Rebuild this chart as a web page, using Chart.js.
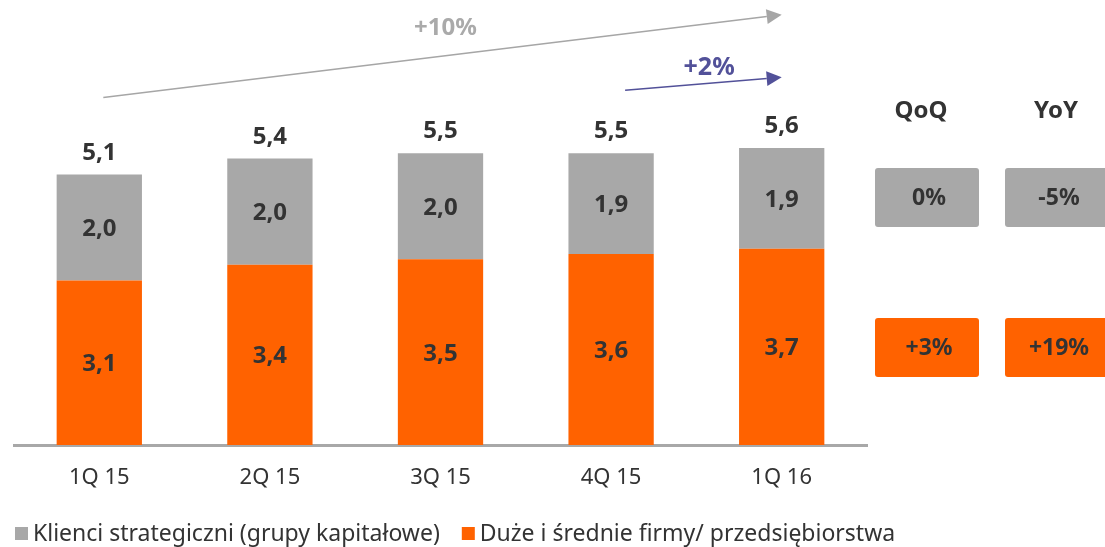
<!DOCTYPE html>
<html>
<head>
<meta charset="utf-8">
<script src="https://cdn.jsdelivr.net/npm/chart.js@4/dist/chart.umd.min.js"></script>
<style>
  html, body { margin: 0; padding: 0; background: #fff; }
  #wrap { width: 1105px; height: 547px; }
</style>
</head>
<body>
<div id="wrap"><canvas id="chart"></canvas></div>
<script>
const quarters = ['1Q 15', '2Q 15', '3Q 15', '4Q 15', '1Q 16'];
const strategic = [2.0, 2.0, 2.0, 1.9, 1.9];
const corporate = [3.1, 3.4, 3.5, 3.6, 3.7];
const totals = [5.1, 5.4, 5.5, 5.5, 5.6];
const seriesNames = ['Duże i średnie firmy/ przedsiębiorstwa', 'Klienci strategiczni (grupy kapitałowe)'];
const changeHeads = ['QoQ', 'YoY'];
const strategicChange = ['0%', '-5%'];
const corporateChange = ['+3%', '+19%'];
const trendLabels = ['+10%', '+2%'];

const ORANGE = '#ff6200';
const GREY = '#a8a8a8';
const TEXT = '#333333';
const BLUE = '#525199';
const FONT = '"Noto Sans", sans-serif';

Chart.defaults.font.family = FONT;
Chart.defaults.color = TEXT;

const fmt = v => v.toFixed(1).replace('.', ',');

// text centred on its cap height
const label = (ctx, txt, x, y, size, color, weight = 'bold') => {
  ctx.font = `${weight} ${size}px ${FONT}`;
  ctx.fillStyle = color;
  ctx.fillText(txt, x, y + size * 0.36);
};

const arrow = (ctx, x1, y1, x2, y2, color) => {
  const a = Math.atan2(y2 - y1, x2 - x1);
  const len = 15, half = 7.5;
  const bx = x2 - len * Math.cos(a), by = y2 - len * Math.sin(a);
  ctx.strokeStyle = color;
  ctx.fillStyle = color;
  ctx.lineWidth = 1.5;
  ctx.beginPath();
  ctx.moveTo(x1, y1);
  ctx.lineTo(bx, by);
  ctx.stroke();
  ctx.beginPath();
  ctx.moveTo(x2, y2);
  ctx.lineTo(bx + half * Math.sin(a), by - half * Math.cos(a));
  ctx.lineTo(bx - half * Math.sin(a), by + half * Math.cos(a));
  ctx.closePath();
  ctx.fill();
};

const annotate = {
  id: 'annotate',
  afterDatasetsDraw(chart) {
    const { ctx, scales: { x, y } } = chart;
    ctx.save();
    ctx.textAlign = 'center';
    ctx.textBaseline = 'alphabetic';

    // values inside bars
    chart.data.datasets.forEach((ds, i) => {
      chart.getDatasetMeta(i).data.forEach((bar, j) => {
        label(ctx, fmt(ds.data[j]), bar.x, (bar.y + bar.base) / 2, 24, TEXT);
      });
    });

    // totals
    totals.forEach((t, j) => {
      label(ctx, fmt(t), x.getPixelForValue(j), y.getPixelForValue(t) - 23.5, 24, TEXT);
    });

    // trend arrows
    arrow(ctx, x.getPixelForValue(0) + 4, y.getPixelForValue(6.55),
      x.getPixelForValue(4), y.getPixelForValue(8.11), '#a6a6a6');
    arrow(ctx, x.getPixelForValue(3) + 14, y.getPixelForValue(6.685),
      x.getPixelForValue(4), y.getPixelForValue(6.93), BLUE);
    label(ctx, trendLabels[0], x.getPixelForValue(2) + 5, y.getPixelForValue(7.89), 24, '#aaaaaa');
    label(ctx, trendLabels[1], x.getPixelForValue(3) + 98, y.getPixelForValue(7.14), 25, BLUE);

    // QoQ / YoY panel
    const cols = [{ x: 875, w: 104 }, { x: 1005, w: 106 }];
    changeHeads.forEach((h, k) => label(ctx, h, [921, 1056][k], 109, 24, TEXT));
    [[strategicChange, GREY, 168], [corporateChange, ORANGE, 318]].forEach(([vals, col, top]) => {
      vals.forEach((v, k) => {
        ctx.fillStyle = col;
        ctx.beginPath();
        ctx.roundRect(cols[k].x, top, cols[k].w, 59, 3);
        ctx.fill();
        label(ctx, v, cols[k].x + 54, top + 29, 23, TEXT);
      });
    });

    // legend
    ctx.textAlign = 'left';
    let lx = 15;
    [...chart.data.datasets].reverse().forEach(ds => {
      ctx.fillStyle = ds.backgroundColor;
      ctx.fillRect(lx, 527, 13, 13);
      label(ctx, ds.label, lx + 18, 533, 23, TEXT, 'normal');
      lx += 18 + ctx.measureText(ds.label).width + 22;
    });
    ctx.restore();
  }
};

new Chart(document.getElementById('chart'), {
  type: 'bar',
  data: {
    labels: quarters,
    datasets: [
      { label: seriesNames[0], data: corporate, backgroundColor: ORANGE },
      { label: seriesNames[1], data: strategic, backgroundColor: GREY },
    ],
  },
  options: {
    responsive: true,
    maintainAspectRatio: false,
    animation: false,
    layout: { padding: { left: 0, right: 0, top: 10, bottom: 40 } },
    datasets: { bar: { categoryPercentage: 1, barPercentage: 0.5 } },
    plugins: {
      tooltip: { enabled: false },
      legend: { display: false },
    },
    scales: {
      x: {
        stacked: true,
        grid: { display: false },
        border: { display: true, color: GREY, width: 3 },
        ticks: { color: TEXT, font: { size: 22 }, padding: 12 },
        afterFit: s => { s.height = 62; },
      },
      y: {
        stacked: true,
        min: 0,
        max: 8.2,
        position: 'left',
        grid: { display: false },
        border: { display: false },
        ticks: { display: false },
        afterFit: s => { s.width = 14; },
      },
      y2: {
        position: 'right',
        grid: { display: false },
        border: { display: false },
        ticks: { display: false },
        afterFit: s => { s.width = 238; },
      },
    },
  },
  plugins: [annotate],
});
</script>
</body>
</html>
